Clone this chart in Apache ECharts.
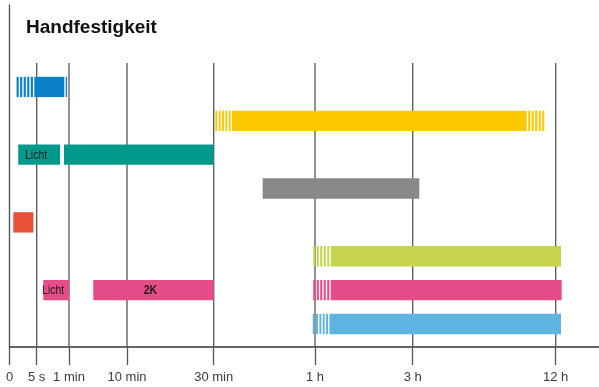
<!DOCTYPE html>
<html>
<head>
<meta charset="utf-8">
<script src="https://cdn.jsdelivr.net/npm/echarts@6/dist/echarts.min.js"></script>
<style>
  html, body { margin: 0; padding: 0; background: #ffffff; }
  #chart { width: 599px; height: 387px; }
</style>
</head>
<body>
<div id="chart"></div>
<script>
// Time marks on the schematic time axis (seconds) and their labels
const tickSeconds = [0, 5, 60, 600, 1800, 3600, 10800, 43200];
const tickLabels = ['0', '5 s', '1 min', '10 min', '30 min', '1 h', '3 h', '12 h'];

// Rows from top to bottom; each segment: [row, start, firmFrom, firmTo, end] in seconds.
// start..firmFrom and firmTo..end are the uncertain (striped) parts.
const segRow   = [0,    1,     2,    2,    3,     4,   5,     6,    6,    6,     7];
const segStart = [1.3,  1830,  1.6,  51.5, 2670,  0.7, 3568,  16.2, 286,  3568,  3560];
const segFirmA = [4.56, 2125,  1.6,  51.5, 2670,  0.7, 4757,  16.2, 286,  4757,  4660];
const segFirmB = [52,   36630, 44.7, 1800, 12295, 4.4, 44400, 60,   1800, 44560, 44400];
const segEnd   = [56.6, 40620, 44.7, 1800, 12295, 4.4, 44400, 60,   1800, 44560, 44400];
const segLabel = ['',   '',    'Licht', '', '',   '',  '',    'Licht', '2K', '',  ''];

// ---- layout / style ----
const rowColors = ['#0b80c6', '#fdc900', '#00998b', '#87888a', '#e9503a', '#c5d34f', '#e64c88', '#5db3e1'];
// axis position (px from the left edge of the plot) of each time mark
const tickPos = [0, 27.2, 59.5, 117.5, 204.2, 305.5, 403.2, 546.2];
const X_MAX = 589.5;
const Y_MIN = -1.42, Y_MAX = 8.68, GRID_TOP_ROW = 0.29;
const LINE_COLOR = '#5b5353';
const SANS = "'Liberation Sans', Arial, sans-serif";

// piecewise-linear time scale: seconds -> axis position
function toAxis(sec) {
  const n = tickSeconds.length;
  for (let i = 1; i < n; i++) {
    if (sec <= tickSeconds[i]) {
      const t = (sec - tickSeconds[i - 1]) / (tickSeconds[i] - tickSeconds[i - 1]);
      return tickPos[i - 1] + t * (tickPos[i] - tickPos[i - 1]);
    }
  }
  const slope = (tickPos[n - 1] - tickPos[n - 2]) / (tickSeconds[n - 1] - tickSeconds[n - 2]);
  return tickPos[n - 1] + (sec - tickSeconds[n - 1]) * slope;
}

const barData = segRow.map((r, i) => [
  r + 1, toAxis(segStart[i]), toAxis(segFirmA[i]), toAxis(segFirmB[i]), toAxis(segEnd[i]), r, i
]);
const gridLineData = tickPos.slice(1).map(p => [p]);

const STRIPE_W = 2.1, STRIPE_GAP = 1.4;
function stripes(x0, x1, y, h, color, out) {
  const span = x1 - x0;
  if (span <= 0.5) return;
  const n = Math.max(1, Math.round((span + STRIPE_GAP) / (STRIPE_W + STRIPE_GAP)));
  const slot = (span + STRIPE_GAP) / n;
  for (let k = 0; k < n; k++) {
    out.push({ type: 'rect', shape: { x: x0 + k * slot, y: y, width: slot - STRIPE_GAP, height: h },
               style: { fill: color } });
  }
}

function renderBar(params, api) {
  const row = api.value(0);
  const idx = api.value(6);
  const color = rowColors[api.value(5)];
  const pS = api.coord([api.value(1), row]);
  const pA = api.coord([api.value(2), row]);
  const pB = api.coord([api.value(3), row]);
  const pE = api.coord([api.value(4), row]);
  const h = api.size([0, 1])[1] * 0.6;
  const y = pS[1] - h / 2;
  const kids = [];
  // striped lead-in
  if (pA[0] - pS[0] > 0.5) stripes(pS[0], pA[0] - STRIPE_GAP, y, h, color, kids);
  // firm part
  kids.push({ type: 'rect', shape: { x: pA[0], y: y, width: pB[0] - pA[0], height: h }, style: { fill: color } });
  // striped tail
  if (pE[0] - pB[0] > 0.5) stripes(pB[0] + STRIPE_GAP, pE[0], y, h, color, kids);
  const label = segLabel[idx];
  if (label) {
    kids.push({
      type: 'text', x: (pS[0] + pE[0]) / 2 - 3, y: pS[1] + 0.5, scaleX: 0.84,
      style: {
        text: label, x: 0, y: 0, align: 'center', verticalAlign: 'middle',
        fontFamily: SANS, fontSize: 12.5, fontWeight: label === '2K' ? 'bold' : 'normal', fill: '#1e1e1e'
      }
    });
  }
  return { type: 'group', children: kids };
}

function renderGridLine(params, api) {
  const top = api.coord([api.value(0), GRID_TOP_ROW]);
  const bot = api.coord([api.value(0), Y_MAX]);
  return { type: 'line', shape: { x1: top[0], y1: top[1], x2: bot[0], y2: bot[1] },
           style: { stroke: LINE_COLOR, lineWidth: 1.3 } };
}

const chart = echarts.init(document.getElementById('chart'), null, { renderer: 'canvas' });
chart.setOption({
  animation: false,
  backgroundColor: '#ffffff',
  title: {
    text: 'Handfestigkeit', left: 26, top: 18, padding: 0,
    textStyle: { fontFamily: SANS, fontSize: 19, fontWeight: 'bold', color: '#111111' }
  },
  grid: { left: 9.5, right: 0, top: 5, bottom: 40 },
  xAxis: {
    type: 'value', min: 0, max: X_MAX, position: 'bottom',
    axisLine: { show: true, onZero: false, lineStyle: { color: '#383333', width: 1.6 } },
    axisTick: { show: true, customValues: tickPos, length: 18, lineStyle: { color: LINE_COLOR, width: 1.3 } },
    axisLabel: {
      show: true, customValues: tickPos, margin: 24, fontFamily: SANS, fontSize: 13, color: '#3a3a3a',
      formatter: v => { const i = tickPos.findIndex(p => Math.abs(p - v) < 0.01); return i >= 0 ? tickLabels[i] : ''; }
    },
    splitLine: { show: false }
  },
  yAxis: {
    type: 'value', inverse: true, min: Y_MIN, max: Y_MAX,
    axisLine: { show: true, onZero: false, lineStyle: { color: LINE_COLOR, width: 1.4 } },
    axisTick: { show: false }, axisLabel: { show: false }, splitLine: { show: false }
  },
  series: [
    { type: 'custom', name: 'gridlines', data: gridLineData, renderItem: renderGridLine, z: 1, silent: true },
    { type: 'custom', name: 'bars', data: barData, renderItem: renderBar, z: 2, silent: true }
  ]
});
</script>
</body>
</html>
